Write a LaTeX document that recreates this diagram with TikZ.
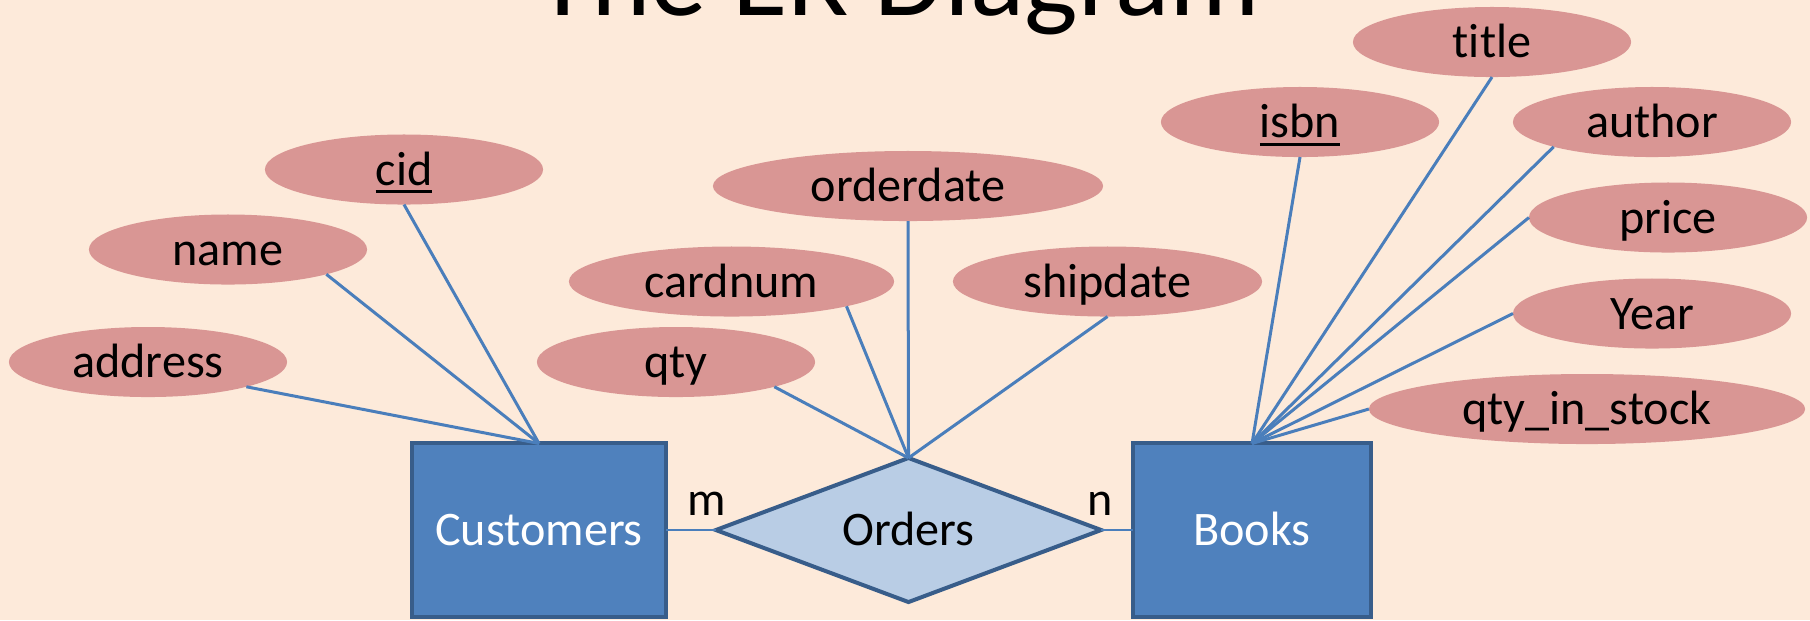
\documentclass[tikz,border=0pt]{standalone}
\usepackage{fontspec}
\setmainfont{Carlito}[Ligatures=CommonOff]
\usetikzlibrary{shapes.geometric}

\definecolor{peach}{HTML}{FDEADA}
\definecolor{attrfill}{HTML}{D99694}
\definecolor{entfill}{HTML}{4F81BD}
\definecolor{entdraw}{HTML}{385D8A}
\definecolor{relfill}{HTML}{B9CDE5}
\definecolor{linkblue}{HTML}{4A7EBB}

\newcommand{\keyattr}[1]{\setbox0\hbox{#1}\rlap{\rule[-2.4pt]{\wd0}{0.85pt}}#1}

\begin{document}
\begin{tikzpicture}[
	x=0.01cm,
	y=-0.01cm,
	font=\fontsize{13.7}{16}\selectfont,
	attr/.style={
		ellipse,
		fill=attrfill,
		inner sep=0pt,
		outer sep=0pt,
		text height=0.36cm,
		text depth=0.05cm,
		minimum width=2.78cm,
		minimum height=0.70cm
	},
	entity/.style={
		rectangle,
		draw=entdraw,
		fill=entfill,
		line width=0.04cm,
		text=white,
		inner sep=0pt,
		outer sep=0pt,
		text height=0.36cm,
		text depth=0.05cm,
		minimum height=1.73cm
	},
	relation/.style={
		diamond,
		aspect=2.67,
		draw=entdraw,
		fill=relfill,
		line width=0.04cm,
		inner sep=0pt,
		outer sep=0pt,
		text height=0.36cm,
		text depth=0.05cm,
		minimum width=3.85cm,
		minimum height=1.44cm
	},
	link/.style={
		draw=linkblue,
		line width=0.03cm
	},
	card/.style={
		anchor=base
	},
]

% Background
\useasboundingbox (0,0) rectangle (1810,620);
\clip (0,0) rectangle (1810,620);
\fill[peach] (0,0) rectangle (1810,620);

\node[anchor=base, font=\fontsize{32.2}{38}\selectfont] (heading) at (898,15) {The ER Diagram};

% Entities and relationship
\node[entity, minimum width=2.54cm] (customers) at (539,530) {Customers};
\node[relation] (orders) at (908.5,530) {Orders};
\node[entity, minimum width=2.38cm] (books) at (1252,530) {Books};

% Attributes
\foreach \n/\x/\y/\w/\t in {
	address/148/362/2.78/address,
	name/228/249.5/2.78/name,
	cid/404/169.5/2.78/\keyattr{cid},
	qty/676/362/2.78/qty,
	cardnum/731.5/281.5/3.25/cardnum,
	orderdate/908/186/3.90/orderdate,
	shipdate/1107.5/281.5/3.09/shipdate,
	isbn/1300/122/2.78/\keyattr{isbn},
	title/1492/42/2.78/title,
	author/1652/122/2.78/author,
	price/1668/217.5/2.78/price,
	year/1652/313.5/2.78/Year,
	qtystock/1587/409/4.36/qty\_in\_stock}
	\node[attr, minimum width=\w cm] (\n) at (\x,\y) {\t};

% Links
\foreach \a/\s in {address/south east, name/south east, cid/south}
	\draw[link] (\a.\s) -- (customers.north);
\foreach \a/\s in {qty/south east, cardnum/south east, orderdate/south, shipdate/south}
	\draw[link] (\a.\s) -- (orders.north);
\foreach \a/\s in {isbn/south, title/south, author/south west, price/west, year/west, qtystock/west}
	\draw[link] (\a.\s) -- (books.north);

\draw[link, line width=0.013cm] (customers.east) -- (orders.west);
\draw[link, line width=0.013cm] (orders.east) -- (books.west);

\node[card] (mlabel) at (707,515) {m};
\node[card] (nlabel) at (1100,515) {n};

\end{tikzpicture}
\end{document}
